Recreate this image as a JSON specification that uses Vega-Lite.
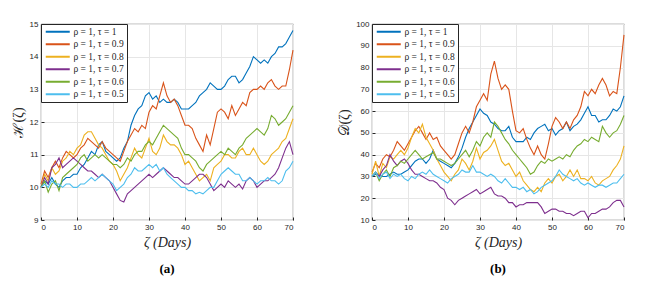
{
"$schema":"https://vega.github.io/schema/vega-lite/v6.json",
"padding":{"left":10,"top":19,"right":5,"bottom":2},
"config":{
"view":{"stroke":"#262626","strokeWidth":0.8},
"axis":{"labelFont":"Liberation Sans","labelFontSize":8,"labelColor":"#262626","gridColor":"#e6e6e6","domain":false,"tickColor":"#262626","tickSize":-3,"labelPadding":6,"titleFont":"Liberation Serif","titleFontSize":14,"titleFontWeight":"normal","titleColor":"#262626"},
"legend":{"orient":"top-left","offset":0,"padding":3,"strokeColor":"#262626","fillColor":"white","symbolType":"M-1,0H7","symbolSize":36,"symbolStrokeWidth":2,"symbolFillColor":"transparent","labelOffset":20,"labelFont":"Liberation Serif","labelFontSize":9.5,"labelColor":"#262626","rowPadding":1.5,"title":null},
"concat":{"spacing":41},
"title":{"orient":"bottom","font":"Liberation Serif","fontSize":13,"fontWeight":"bold","color":"#000000","offset":14}
},
"datasets":{
"a":[
{"s":"1","x":0,"y":10.0},{"s":"1","x":1,"y":10.2},{"s":"1","x":2,"y":10.1},{"s":"1","x":3,"y":10.3},{"s":"1","x":4,"y":10.1},{"s":"1","x":5,"y":10.0},{"s":"1","x":6,"y":10.2},{"s":"1","x":7,"y":10.3},{"s":"1","x":8,"y":10.3},{"s":"1","x":9,"y":10.4},{"s":"1","x":10,"y":10.4},{"s":"1","x":11,"y":10.6},{"s":"1","x":12,"y":10.7},{"s":"1","x":13,"y":10.9},{"s":"1","x":14,"y":11.1},{"s":"1","x":15,"y":11.0},{"s":"1","x":16,"y":11.3},{"s":"1","x":17,"y":11.4},{"s":"1","x":18,"y":11.1},{"s":"1","x":19,"y":11.0},{"s":"1","x":20,"y":10.9},{"s":"1","x":21,"y":10.8},{"s":"1","x":22,"y":10.9},{"s":"1","x":23,"y":11.2},{"s":"1","x":24,"y":11.4},{"s":"1","x":25,"y":11.9},{"s":"1","x":26,"y":12.2},{"s":"1","x":27,"y":12.4},{"s":"1","x":28,"y":12.5},{"s":"1","x":29,"y":12.8},{"s":"1","x":30,"y":12.9},{"s":"1","x":31,"y":12.7},{"s":"1","x":32,"y":12.8},{"s":"1","x":33,"y":12.6},{"s":"1","x":34,"y":12.7},{"s":"1","x":35,"y":12.6},{"s":"1","x":36,"y":12.6},{"s":"1","x":37,"y":12.7},{"s":"1","x":38,"y":12.6},{"s":"1","x":39,"y":12.4},{"s":"1","x":40,"y":12.4},{"s":"1","x":41,"y":12.4},{"s":"1","x":42,"y":12.5},{"s":"1","x":43,"y":12.6},{"s":"1","x":44,"y":12.8},{"s":"1","x":45,"y":12.9},{"s":"1","x":46,"y":13.0},{"s":"1","x":47,"y":13.2},{"s":"1","x":48,"y":13.1},{"s":"1","x":49,"y":13.0},{"s":"1","x":50,"y":13.0},{"s":"1","x":51,"y":13.1},{"s":"1","x":52,"y":13.3},{"s":"1","x":53,"y":13.4},{"s":"1","x":54,"y":13.4},{"s":"1","x":55,"y":13.2},{"s":"1","x":56,"y":13.3},{"s":"1","x":57,"y":13.5},{"s":"1","x":58,"y":13.7},{"s":"1","x":59,"y":14.0},{"s":"1","x":60,"y":13.9},{"s":"1","x":61,"y":13.8},{"s":"1","x":62,"y":13.9},{"s":"1","x":63,"y":13.8},{"s":"1","x":64,"y":14.0},{"s":"1","x":65,"y":14.1},{"s":"1","x":66,"y":14.3},{"s":"1","x":67,"y":14.3},{"s":"1","x":68,"y":14.4},{"s":"1","x":69,"y":14.6},{"s":"1","x":70,"y":14.8},
{"s":"0.9","x":0,"y":10.1},{"s":"0.9","x":1,"y":10.5},{"s":"0.9","x":2,"y":10.3},{"s":"0.9","x":3,"y":10.6},{"s":"0.9","x":4,"y":10.8},{"s":"0.9","x":5,"y":10.6},{"s":"0.9","x":6,"y":10.9},{"s":"0.9","x":7,"y":11.1},{"s":"0.9","x":8,"y":11.0},{"s":"0.9","x":9,"y":10.9},{"s":"0.9","x":10,"y":11.0},{"s":"0.9","x":11,"y":11.2},{"s":"0.9","x":12,"y":11.3},{"s":"0.9","x":13,"y":11.5},{"s":"0.9","x":14,"y":11.4},{"s":"0.9","x":15,"y":11.3},{"s":"0.9","x":16,"y":11.2},{"s":"0.9","x":17,"y":11.4},{"s":"0.9","x":18,"y":11.2},{"s":"0.9","x":19,"y":11.1},{"s":"0.9","x":20,"y":11.0},{"s":"0.9","x":21,"y":10.9},{"s":"0.9","x":22,"y":10.8},{"s":"0.9","x":23,"y":11.1},{"s":"0.9","x":24,"y":11.4},{"s":"0.9","x":25,"y":11.6},{"s":"0.9","x":26,"y":11.8},{"s":"0.9","x":27,"y":11.7},{"s":"0.9","x":28,"y":11.9},{"s":"0.9","x":29,"y":11.8},{"s":"0.9","x":30,"y":12.3},{"s":"0.9","x":31,"y":12.5},{"s":"0.9","x":32,"y":12.4},{"s":"0.9","x":33,"y":12.8},{"s":"0.9","x":34,"y":13.2},{"s":"0.9","x":35,"y":12.8},{"s":"0.9","x":36,"y":12.6},{"s":"0.9","x":37,"y":12.7},{"s":"0.9","x":38,"y":12.5},{"s":"0.9","x":39,"y":12.2},{"s":"0.9","x":40,"y":11.9},{"s":"0.9","x":41,"y":11.9},{"s":"0.9","x":42,"y":11.8},{"s":"0.9","x":43,"y":11.5},{"s":"0.9","x":44,"y":11.3},{"s":"0.9","x":45,"y":11.1},{"s":"0.9","x":46,"y":11.6},{"s":"0.9","x":47,"y":11.3},{"s":"0.9","x":48,"y":11.8},{"s":"0.9","x":49,"y":12.3},{"s":"0.9","x":50,"y":12.4},{"s":"0.9","x":51,"y":12.3},{"s":"0.9","x":52,"y":12.1},{"s":"0.9","x":53,"y":12.5},{"s":"0.9","x":54,"y":12.2},{"s":"0.9","x":55,"y":12.4},{"s":"0.9","x":56,"y":12.6},{"s":"0.9","x":57,"y":12.5},{"s":"0.9","x":58,"y":12.9},{"s":"0.9","x":59,"y":13.0},{"s":"0.9","x":60,"y":13.0},{"s":"0.9","x":61,"y":13.1},{"s":"0.9","x":62,"y":13.0},{"s":"0.9","x":63,"y":13.2},{"s":"0.9","x":64,"y":13.3},{"s":"0.9","x":65,"y":13.1},{"s":"0.9","x":66,"y":13.0},{"s":"0.9","x":67,"y":13.1},{"s":"0.9","x":68,"y":13.1},{"s":"0.9","x":69,"y":13.6},{"s":"0.9","x":70,"y":14.2},
{"s":"0.8","x":0,"y":10.0},{"s":"0.8","x":1,"y":10.4},{"s":"0.8","x":2,"y":10.2},{"s":"0.8","x":3,"y":10.6},{"s":"0.8","x":4,"y":10.4},{"s":"0.8","x":5,"y":10.5},{"s":"0.8","x":6,"y":10.8},{"s":"0.8","x":7,"y":10.9},{"s":"0.8","x":8,"y":11.1},{"s":"0.8","x":9,"y":11.0},{"s":"0.8","x":10,"y":11.2},{"s":"0.8","x":11,"y":11.3},{"s":"0.8","x":12,"y":11.6},{"s":"0.8","x":13,"y":11.7},{"s":"0.8","x":14,"y":11.7},{"s":"0.8","x":15,"y":11.5},{"s":"0.8","x":16,"y":11.3},{"s":"0.8","x":17,"y":11.2},{"s":"0.8","x":18,"y":11.0},{"s":"0.8","x":19,"y":10.8},{"s":"0.8","x":20,"y":10.7},{"s":"0.8","x":21,"y":10.5},{"s":"0.8","x":22,"y":10.2},{"s":"0.8","x":23,"y":10.4},{"s":"0.8","x":24,"y":10.6},{"s":"0.8","x":25,"y":10.9},{"s":"0.8","x":26,"y":11.2},{"s":"0.8","x":27,"y":11.0},{"s":"0.8","x":28,"y":10.9},{"s":"0.8","x":29,"y":11.2},{"s":"0.8","x":30,"y":11.5},{"s":"0.8","x":31,"y":11.1},{"s":"0.8","x":32,"y":11.0},{"s":"0.8","x":33,"y":11.2},{"s":"0.8","x":34,"y":11.6},{"s":"0.8","x":35,"y":11.4},{"s":"0.8","x":36,"y":11.3},{"s":"0.8","x":37,"y":11.3},{"s":"0.8","x":38,"y":11.2},{"s":"0.8","x":39,"y":11.0},{"s":"0.8","x":40,"y":10.7},{"s":"0.8","x":41,"y":10.8},{"s":"0.8","x":42,"y":10.6},{"s":"0.8","x":43,"y":10.4},{"s":"0.8","x":44,"y":10.2},{"s":"0.8","x":45,"y":10.3},{"s":"0.8","x":46,"y":10.4},{"s":"0.8","x":47,"y":10.2},{"s":"0.8","x":48,"y":10.6},{"s":"0.8","x":49,"y":10.7},{"s":"0.8","x":50,"y":10.8},{"s":"0.8","x":51,"y":11.0},{"s":"0.8","x":52,"y":11.0},{"s":"0.8","x":53,"y":10.9},{"s":"0.8","x":54,"y":10.9},{"s":"0.8","x":55,"y":11.1},{"s":"0.8","x":56,"y":11.2},{"s":"0.8","x":57,"y":11.0},{"s":"0.8","x":58,"y":11.0},{"s":"0.8","x":59,"y":11.2},{"s":"0.8","x":60,"y":11.0},{"s":"0.8","x":61,"y":10.8},{"s":"0.8","x":62,"y":10.7},{"s":"0.8","x":63,"y":10.8},{"s":"0.8","x":64,"y":11.0},{"s":"0.8","x":65,"y":11.1},{"s":"0.8","x":66,"y":11.2},{"s":"0.8","x":67,"y":11.4},{"s":"0.8","x":68,"y":11.5},{"s":"0.8","x":69,"y":11.8},{"s":"0.8","x":70,"y":12.1},
{"s":"0.7","x":0,"y":10.0},{"s":"0.7","x":1,"y":10.3},{"s":"0.7","x":2,"y":10.1},{"s":"0.7","x":3,"y":10.6},{"s":"0.7","x":4,"y":10.7},{"s":"0.7","x":5,"y":10.9},{"s":"0.7","x":6,"y":10.6},{"s":"0.7","x":7,"y":10.7},{"s":"0.7","x":8,"y":10.8},{"s":"0.7","x":9,"y":10.9},{"s":"0.7","x":10,"y":10.8},{"s":"0.7","x":11,"y":10.7},{"s":"0.7","x":12,"y":10.6},{"s":"0.7","x":13,"y":10.5},{"s":"0.7","x":14,"y":10.5},{"s":"0.7","x":15,"y":10.4},{"s":"0.7","x":16,"y":10.3},{"s":"0.7","x":17,"y":10.4},{"s":"0.7","x":18,"y":10.3},{"s":"0.7","x":19,"y":10.2},{"s":"0.7","x":20,"y":10.0},{"s":"0.7","x":21,"y":9.8},{"s":"0.7","x":22,"y":9.6},{"s":"0.7","x":23,"y":9.55},{"s":"0.7","x":24,"y":9.8},{"s":"0.7","x":25,"y":9.9},{"s":"0.7","x":26,"y":10.0},{"s":"0.7","x":27,"y":10.1},{"s":"0.7","x":28,"y":10.2},{"s":"0.7","x":29,"y":10.3},{"s":"0.7","x":30,"y":10.4},{"s":"0.7","x":31,"y":10.3},{"s":"0.7","x":32,"y":10.4},{"s":"0.7","x":33,"y":10.5},{"s":"0.7","x":34,"y":10.6},{"s":"0.7","x":35,"y":10.5},{"s":"0.7","x":36,"y":10.4},{"s":"0.7","x":37,"y":10.3},{"s":"0.7","x":38,"y":10.3},{"s":"0.7","x":39,"y":10.2},{"s":"0.7","x":40,"y":10.1},{"s":"0.7","x":41,"y":10.1},{"s":"0.7","x":42,"y":10.2},{"s":"0.7","x":43,"y":10.3},{"s":"0.7","x":44,"y":10.4},{"s":"0.7","x":45,"y":10.4},{"s":"0.7","x":46,"y":10.3},{"s":"0.7","x":47,"y":10.1},{"s":"0.7","x":48,"y":9.9},{"s":"0.7","x":49,"y":10.0},{"s":"0.7","x":50,"y":10.1},{"s":"0.7","x":51,"y":10.0},{"s":"0.7","x":52,"y":10.2},{"s":"0.7","x":53,"y":10.1},{"s":"0.7","x":54,"y":10.0},{"s":"0.7","x":55,"y":10.1},{"s":"0.7","x":56,"y":9.95},{"s":"0.7","x":57,"y":10.2},{"s":"0.7","x":58,"y":10.3},{"s":"0.7","x":59,"y":10.2},{"s":"0.7","x":60,"y":10.0},{"s":"0.7","x":61,"y":10.1},{"s":"0.7","x":62,"y":10.2},{"s":"0.7","x":63,"y":10.2},{"s":"0.7","x":64,"y":10.3},{"s":"0.7","x":65,"y":10.4},{"s":"0.7","x":66,"y":10.6},{"s":"0.7","x":67,"y":10.9},{"s":"0.7","x":68,"y":11.2},{"s":"0.7","x":69,"y":11.4},{"s":"0.7","x":70,"y":11.0},
{"s":"0.6","x":0,"y":10.0},{"s":"0.6","x":1,"y":10.2},{"s":"0.6","x":2,"y":9.85},{"s":"0.6","x":3,"y":10.1},{"s":"0.6","x":4,"y":10.2},{"s":"0.6","x":5,"y":9.9},{"s":"0.6","x":6,"y":10.3},{"s":"0.6","x":7,"y":10.4},{"s":"0.6","x":8,"y":10.5},{"s":"0.6","x":9,"y":10.6},{"s":"0.6","x":10,"y":10.7},{"s":"0.6","x":11,"y":10.9},{"s":"0.6","x":12,"y":11.0},{"s":"0.6","x":13,"y":10.8},{"s":"0.6","x":14,"y":10.9},{"s":"0.6","x":15,"y":11.0},{"s":"0.6","x":16,"y":10.9},{"s":"0.6","x":17,"y":11.0},{"s":"0.6","x":18,"y":10.9},{"s":"0.6","x":19,"y":10.8},{"s":"0.6","x":20,"y":10.7},{"s":"0.6","x":21,"y":10.7},{"s":"0.6","x":22,"y":10.6},{"s":"0.6","x":23,"y":10.7},{"s":"0.6","x":24,"y":10.9},{"s":"0.6","x":25,"y":10.8},{"s":"0.6","x":26,"y":11.0},{"s":"0.6","x":27,"y":11.1},{"s":"0.6","x":28,"y":11.1},{"s":"0.6","x":29,"y":11.3},{"s":"0.6","x":30,"y":11.4},{"s":"0.6","x":31,"y":11.3},{"s":"0.6","x":32,"y":11.5},{"s":"0.6","x":33,"y":11.7},{"s":"0.6","x":34,"y":11.9},{"s":"0.6","x":35,"y":11.8},{"s":"0.6","x":36,"y":11.7},{"s":"0.6","x":37,"y":11.6},{"s":"0.6","x":38,"y":11.5},{"s":"0.6","x":39,"y":11.2},{"s":"0.6","x":40,"y":11.0},{"s":"0.6","x":41,"y":11.0},{"s":"0.6","x":42,"y":10.9},{"s":"0.6","x":43,"y":10.8},{"s":"0.6","x":44,"y":10.6},{"s":"0.6","x":45,"y":10.5},{"s":"0.6","x":46,"y":10.7},{"s":"0.6","x":47,"y":10.8},{"s":"0.6","x":48,"y":10.9},{"s":"0.6","x":49,"y":11.0},{"s":"0.6","x":50,"y":11.1},{"s":"0.6","x":51,"y":11.0},{"s":"0.6","x":52,"y":11.2},{"s":"0.6","x":53,"y":11.1},{"s":"0.6","x":54,"y":11.0},{"s":"0.6","x":55,"y":11.2},{"s":"0.6","x":56,"y":11.3},{"s":"0.6","x":57,"y":11.5},{"s":"0.6","x":58,"y":11.6},{"s":"0.6","x":59,"y":11.7},{"s":"0.6","x":60,"y":11.8},{"s":"0.6","x":61,"y":11.7},{"s":"0.6","x":62,"y":11.6},{"s":"0.6","x":63,"y":11.8},{"s":"0.6","x":64,"y":12.2},{"s":"0.6","x":65,"y":12.1},{"s":"0.6","x":66,"y":11.9},{"s":"0.6","x":67,"y":12.0},{"s":"0.6","x":68,"y":12.1},{"s":"0.6","x":69,"y":12.3},{"s":"0.6","x":70,"y":12.5},
{"s":"0.5","x":0,"y":10.0},{"s":"0.5","x":1,"y":10.1},{"s":"0.5","x":2,"y":10.0},{"s":"0.5","x":3,"y":10.2},{"s":"0.5","x":4,"y":10.1},{"s":"0.5","x":5,"y":10.1},{"s":"0.5","x":6,"y":10.0},{"s":"0.5","x":7,"y":10.1},{"s":"0.5","x":8,"y":10.1},{"s":"0.5","x":9,"y":10.0},{"s":"0.5","x":10,"y":10.0},{"s":"0.5","x":11,"y":10.1},{"s":"0.5","x":12,"y":10.1},{"s":"0.5","x":13,"y":10.2},{"s":"0.5","x":14,"y":10.3},{"s":"0.5","x":15,"y":10.2},{"s":"0.5","x":16,"y":10.3},{"s":"0.5","x":17,"y":10.4},{"s":"0.5","x":18,"y":10.3},{"s":"0.5","x":19,"y":10.2},{"s":"0.5","x":20,"y":10.1},{"s":"0.5","x":21,"y":9.9},{"s":"0.5","x":22,"y":10.0},{"s":"0.5","x":23,"y":10.1},{"s":"0.5","x":24,"y":10.3},{"s":"0.5","x":25,"y":10.4},{"s":"0.5","x":26,"y":10.6},{"s":"0.5","x":27,"y":10.5},{"s":"0.5","x":28,"y":10.5},{"s":"0.5","x":29,"y":10.6},{"s":"0.5","x":30,"y":10.7},{"s":"0.5","x":31,"y":10.6},{"s":"0.5","x":32,"y":10.7},{"s":"0.5","x":33,"y":10.5},{"s":"0.5","x":34,"y":10.6},{"s":"0.5","x":35,"y":10.4},{"s":"0.5","x":36,"y":10.3},{"s":"0.5","x":37,"y":10.2},{"s":"0.5","x":38,"y":10.1},{"s":"0.5","x":39,"y":10.0},{"s":"0.5","x":40,"y":10.0},{"s":"0.5","x":41,"y":9.9},{"s":"0.5","x":42,"y":9.9},{"s":"0.5","x":43,"y":9.8},{"s":"0.5","x":44,"y":9.85},{"s":"0.5","x":45,"y":9.8},{"s":"0.5","x":46,"y":9.9},{"s":"0.5","x":47,"y":10.0},{"s":"0.5","x":48,"y":10.0},{"s":"0.5","x":49,"y":10.2},{"s":"0.5","x":50,"y":10.4},{"s":"0.5","x":51,"y":10.5},{"s":"0.5","x":52,"y":10.6},{"s":"0.5","x":53,"y":10.5},{"s":"0.5","x":54,"y":10.4},{"s":"0.5","x":55,"y":10.4},{"s":"0.5","x":56,"y":10.2},{"s":"0.5","x":57,"y":10.2},{"s":"0.5","x":58,"y":10.3},{"s":"0.5","x":59,"y":10.2},{"s":"0.5","x":60,"y":10.1},{"s":"0.5","x":61,"y":10.2},{"s":"0.5","x":62,"y":10.2},{"s":"0.5","x":63,"y":10.3},{"s":"0.5","x":64,"y":10.2},{"s":"0.5","x":65,"y":10.2},{"s":"0.5","x":66,"y":10.1},{"s":"0.5","x":67,"y":10.2},{"s":"0.5","x":68,"y":10.5},{"s":"0.5","x":69,"y":10.6},{"s":"0.5","x":70,"y":10.8}
],
"b":[
{"s":"1","x":0,"y":30},{"s":"1","x":1,"y":31},{"s":"1","x":2,"y":31},{"s":"1","x":3,"y":30},{"s":"1","x":4,"y":30},{"s":"1","x":5,"y":31},{"s":"1","x":6,"y":32},{"s":"1","x":7,"y":31},{"s":"1","x":8,"y":31},{"s":"1","x":9,"y":32},{"s":"1","x":10,"y":33},{"s":"1","x":11,"y":35},{"s":"1","x":12,"y":37},{"s":"1","x":13,"y":38},{"s":"1","x":14,"y":38},{"s":"1","x":15,"y":36},{"s":"1","x":16,"y":38},{"s":"1","x":17,"y":42},{"s":"1","x":18,"y":38},{"s":"1","x":19,"y":37},{"s":"1","x":20,"y":36},{"s":"1","x":21,"y":35},{"s":"1","x":22,"y":34},{"s":"1","x":23,"y":36},{"s":"1","x":24,"y":39},{"s":"1","x":25,"y":43},{"s":"1","x":26,"y":48},{"s":"1","x":27,"y":52},{"s":"1","x":28,"y":55},{"s":"1","x":29,"y":58},{"s":"1","x":30,"y":61},{"s":"1","x":31,"y":59},{"s":"1","x":32,"y":58},{"s":"1","x":33,"y":55},{"s":"1","x":34,"y":54},{"s":"1","x":35,"y":52},{"s":"1","x":36,"y":51},{"s":"1","x":37,"y":51},{"s":"1","x":38,"y":53},{"s":"1","x":39,"y":48},{"s":"1","x":40,"y":46},{"s":"1","x":41,"y":46},{"s":"1","x":42,"y":46},{"s":"1","x":43,"y":48},{"s":"1","x":44,"y":47},{"s":"1","x":45,"y":50},{"s":"1","x":46,"y":52},{"s":"1","x":47,"y":53},{"s":"1","x":48,"y":54},{"s":"1","x":49,"y":51},{"s":"1","x":50,"y":52},{"s":"1","x":51,"y":49},{"s":"1","x":52,"y":51},{"s":"1","x":53,"y":52},{"s":"1","x":54,"y":55},{"s":"1","x":55,"y":51},{"s":"1","x":56,"y":53},{"s":"1","x":57,"y":54},{"s":"1","x":58,"y":56},{"s":"1","x":59,"y":59},{"s":"1","x":60,"y":62},{"s":"1","x":61,"y":58},{"s":"1","x":62,"y":58},{"s":"1","x":63,"y":55},{"s":"1","x":64,"y":56},{"s":"1","x":65,"y":56},{"s":"1","x":66,"y":58},{"s":"1","x":67,"y":61},{"s":"1","x":68,"y":60},{"s":"1","x":69,"y":62},{"s":"1","x":70,"y":67},
{"s":"0.9","x":0,"y":32},{"s":"0.9","x":1,"y":36},{"s":"0.9","x":2,"y":34},{"s":"0.9","x":3,"y":38},{"s":"0.9","x":4,"y":40},{"s":"0.9","x":5,"y":39},{"s":"0.9","x":6,"y":42},{"s":"0.9","x":7,"y":46},{"s":"0.9","x":8,"y":44},{"s":"0.9","x":9,"y":42},{"s":"0.9","x":10,"y":45},{"s":"0.9","x":11,"y":48},{"s":"0.9","x":12,"y":51},{"s":"0.9","x":13,"y":53},{"s":"0.9","x":14,"y":50},{"s":"0.9","x":15,"y":47},{"s":"0.9","x":16,"y":50},{"s":"0.9","x":17,"y":47},{"s":"0.9","x":18,"y":48},{"s":"0.9","x":19,"y":44},{"s":"0.9","x":20,"y":42},{"s":"0.9","x":21,"y":40},{"s":"0.9","x":22,"y":38},{"s":"0.9","x":23,"y":40},{"s":"0.9","x":24,"y":45},{"s":"0.9","x":25,"y":50},{"s":"0.9","x":26,"y":53},{"s":"0.9","x":27,"y":50},{"s":"0.9","x":28,"y":55},{"s":"0.9","x":29,"y":62},{"s":"0.9","x":30,"y":65},{"s":"0.9","x":31,"y":68},{"s":"0.9","x":32,"y":65},{"s":"0.9","x":33,"y":77},{"s":"0.9","x":34,"y":83},{"s":"0.9","x":35,"y":75},{"s":"0.9","x":36,"y":70},{"s":"0.9","x":37,"y":72},{"s":"0.9","x":38,"y":70},{"s":"0.9","x":39,"y":60},{"s":"0.9","x":40,"y":51},{"s":"0.9","x":41,"y":50},{"s":"0.9","x":42,"y":52},{"s":"0.9","x":43,"y":47},{"s":"0.9","x":44,"y":43},{"s":"0.9","x":45,"y":40},{"s":"0.9","x":46,"y":44},{"s":"0.9","x":47,"y":40},{"s":"0.9","x":48,"y":38},{"s":"0.9","x":49,"y":45},{"s":"0.9","x":50,"y":53},{"s":"0.9","x":51,"y":57},{"s":"0.9","x":52,"y":55},{"s":"0.9","x":53,"y":52},{"s":"0.9","x":54,"y":55},{"s":"0.9","x":55,"y":52},{"s":"0.9","x":56,"y":56},{"s":"0.9","x":57,"y":58},{"s":"0.9","x":58,"y":62},{"s":"0.9","x":59,"y":69},{"s":"0.9","x":60,"y":67},{"s":"0.9","x":61,"y":70},{"s":"0.9","x":62,"y":68},{"s":"0.9","x":63,"y":72},{"s":"0.9","x":64,"y":75},{"s":"0.9","x":65,"y":72},{"s":"0.9","x":66,"y":67},{"s":"0.9","x":67,"y":69},{"s":"0.9","x":68,"y":68},{"s":"0.9","x":69,"y":80},{"s":"0.9","x":70,"y":95},
{"s":"0.8","x":0,"y":31},{"s":"0.8","x":1,"y":37},{"s":"0.8","x":2,"y":30},{"s":"0.8","x":3,"y":36},{"s":"0.8","x":4,"y":34},{"s":"0.8","x":5,"y":39},{"s":"0.8","x":6,"y":38},{"s":"0.8","x":7,"y":40},{"s":"0.8","x":8,"y":42},{"s":"0.8","x":9,"y":40},{"s":"0.8","x":10,"y":43},{"s":"0.8","x":11,"y":48},{"s":"0.8","x":12,"y":52},{"s":"0.8","x":13,"y":50},{"s":"0.8","x":14,"y":54},{"s":"0.8","x":15,"y":48},{"s":"0.8","x":16,"y":45},{"s":"0.8","x":17,"y":42},{"s":"0.8","x":18,"y":38},{"s":"0.8","x":19,"y":35},{"s":"0.8","x":20,"y":32},{"s":"0.8","x":21,"y":30},{"s":"0.8","x":22,"y":28},{"s":"0.8","x":23,"y":31},{"s":"0.8","x":24,"y":33},{"s":"0.8","x":25,"y":38},{"s":"0.8","x":26,"y":36},{"s":"0.8","x":27,"y":33},{"s":"0.8","x":28,"y":37},{"s":"0.8","x":29,"y":43},{"s":"0.8","x":30,"y":38},{"s":"0.8","x":31,"y":41},{"s":"0.8","x":32,"y":42},{"s":"0.8","x":33,"y":44},{"s":"0.8","x":34,"y":47},{"s":"0.8","x":35,"y":42},{"s":"0.8","x":36,"y":37},{"s":"0.8","x":37,"y":35},{"s":"0.8","x":38,"y":36},{"s":"0.8","x":39,"y":33},{"s":"0.8","x":40,"y":30},{"s":"0.8","x":41,"y":32},{"s":"0.8","x":42,"y":28},{"s":"0.8","x":43,"y":26},{"s":"0.8","x":44,"y":24},{"s":"0.8","x":45,"y":23},{"s":"0.8","x":46,"y":25},{"s":"0.8","x":47,"y":23},{"s":"0.8","x":48,"y":27},{"s":"0.8","x":49,"y":29},{"s":"0.8","x":50,"y":27},{"s":"0.8","x":51,"y":30},{"s":"0.8","x":52,"y":31},{"s":"0.8","x":53,"y":28},{"s":"0.8","x":54,"y":30},{"s":"0.8","x":55,"y":33},{"s":"0.8","x":56,"y":30},{"s":"0.8","x":57,"y":33},{"s":"0.8","x":58,"y":29},{"s":"0.8","x":59,"y":29},{"s":"0.8","x":60,"y":28},{"s":"0.8","x":61,"y":30},{"s":"0.8","x":62,"y":27},{"s":"0.8","x":63,"y":26},{"s":"0.8","x":64,"y":28},{"s":"0.8","x":65,"y":29},{"s":"0.8","x":66,"y":30},{"s":"0.8","x":67,"y":33},{"s":"0.8","x":68,"y":35},{"s":"0.8","x":69,"y":38},{"s":"0.8","x":70,"y":44},
{"s":"0.7","x":0,"y":30},{"s":"0.7","x":1,"y":32},{"s":"0.7","x":2,"y":30},{"s":"0.7","x":3,"y":33},{"s":"0.7","x":4,"y":35},{"s":"0.7","x":5,"y":40},{"s":"0.7","x":6,"y":37},{"s":"0.7","x":7,"y":35},{"s":"0.7","x":8,"y":37},{"s":"0.7","x":9,"y":38},{"s":"0.7","x":10,"y":36},{"s":"0.7","x":11,"y":33},{"s":"0.7","x":12,"y":31},{"s":"0.7","x":13,"y":31},{"s":"0.7","x":14,"y":30},{"s":"0.7","x":15,"y":29},{"s":"0.7","x":16,"y":28},{"s":"0.7","x":17,"y":28},{"s":"0.7","x":18,"y":27},{"s":"0.7","x":19,"y":25},{"s":"0.7","x":20,"y":24},{"s":"0.7","x":21,"y":20},{"s":"0.7","x":22,"y":19},{"s":"0.7","x":23,"y":17},{"s":"0.7","x":24,"y":19},{"s":"0.7","x":25,"y":20},{"s":"0.7","x":26,"y":21},{"s":"0.7","x":27,"y":22},{"s":"0.7","x":28,"y":23},{"s":"0.7","x":29,"y":24},{"s":"0.7","x":30,"y":22},{"s":"0.7","x":31,"y":23},{"s":"0.7","x":32,"y":24},{"s":"0.7","x":33,"y":25},{"s":"0.7","x":34,"y":22},{"s":"0.7","x":35,"y":21},{"s":"0.7","x":36,"y":21},{"s":"0.7","x":37,"y":20},{"s":"0.7","x":38,"y":18},{"s":"0.7","x":39,"y":18},{"s":"0.7","x":40,"y":16},{"s":"0.7","x":41,"y":17},{"s":"0.7","x":42,"y":17},{"s":"0.7","x":43,"y":18},{"s":"0.7","x":44,"y":18},{"s":"0.7","x":45,"y":18},{"s":"0.7","x":46,"y":18},{"s":"0.7","x":47,"y":16},{"s":"0.7","x":48,"y":13},{"s":"0.7","x":49,"y":14},{"s":"0.7","x":50,"y":15},{"s":"0.7","x":51,"y":15},{"s":"0.7","x":52,"y":14},{"s":"0.7","x":53,"y":14},{"s":"0.7","x":54,"y":13},{"s":"0.7","x":55,"y":13},{"s":"0.7","x":56,"y":12},{"s":"0.7","x":57,"y":13},{"s":"0.7","x":58,"y":14},{"s":"0.7","x":59,"y":14},{"s":"0.7","x":60,"y":11},{"s":"0.7","x":61,"y":13},{"s":"0.7","x":62,"y":13},{"s":"0.7","x":63,"y":14},{"s":"0.7","x":64,"y":15},{"s":"0.7","x":65,"y":15},{"s":"0.7","x":66,"y":16},{"s":"0.7","x":67,"y":18},{"s":"0.7","x":68,"y":19},{"s":"0.7","x":69,"y":19},{"s":"0.7","x":70,"y":16},
{"s":"0.6","x":0,"y":30},{"s":"0.6","x":1,"y":32},{"s":"0.6","x":2,"y":28},{"s":"0.6","x":3,"y":31},{"s":"0.6","x":4,"y":33},{"s":"0.6","x":5,"y":30},{"s":"0.6","x":6,"y":34},{"s":"0.6","x":7,"y":35},{"s":"0.6","x":8,"y":37},{"s":"0.6","x":9,"y":36},{"s":"0.6","x":10,"y":38},{"s":"0.6","x":11,"y":40},{"s":"0.6","x":12,"y":42},{"s":"0.6","x":13,"y":40},{"s":"0.6","x":14,"y":38},{"s":"0.6","x":15,"y":39},{"s":"0.6","x":16,"y":40},{"s":"0.6","x":17,"y":41},{"s":"0.6","x":18,"y":38},{"s":"0.6","x":19,"y":38},{"s":"0.6","x":20,"y":37},{"s":"0.6","x":21,"y":36},{"s":"0.6","x":22,"y":35},{"s":"0.6","x":23,"y":36},{"s":"0.6","x":24,"y":38},{"s":"0.6","x":25,"y":40},{"s":"0.6","x":26,"y":42},{"s":"0.6","x":27,"y":39},{"s":"0.6","x":28,"y":42},{"s":"0.6","x":29,"y":46},{"s":"0.6","x":30,"y":44},{"s":"0.6","x":31,"y":48},{"s":"0.6","x":32,"y":50},{"s":"0.6","x":33,"y":48},{"s":"0.6","x":34,"y":55},{"s":"0.6","x":35,"y":53},{"s":"0.6","x":36,"y":50},{"s":"0.6","x":37,"y":47},{"s":"0.6","x":38,"y":45},{"s":"0.6","x":39,"y":42},{"s":"0.6","x":40,"y":40},{"s":"0.6","x":41,"y":38},{"s":"0.6","x":42,"y":36},{"s":"0.6","x":43,"y":34},{"s":"0.6","x":44,"y":31},{"s":"0.6","x":45,"y":32},{"s":"0.6","x":46,"y":35},{"s":"0.6","x":47,"y":37},{"s":"0.6","x":48,"y":36},{"s":"0.6","x":49,"y":38},{"s":"0.6","x":50,"y":37},{"s":"0.6","x":51,"y":38},{"s":"0.6","x":52,"y":39},{"s":"0.6","x":53,"y":38},{"s":"0.6","x":54,"y":40},{"s":"0.6","x":55,"y":39},{"s":"0.6","x":56,"y":42},{"s":"0.6","x":57,"y":44},{"s":"0.6","x":58,"y":45},{"s":"0.6","x":59,"y":47},{"s":"0.6","x":60,"y":46},{"s":"0.6","x":61,"y":48},{"s":"0.6","x":62,"y":47},{"s":"0.6","x":63,"y":46},{"s":"0.6","x":64,"y":53},{"s":"0.6","x":65,"y":50},{"s":"0.6","x":66,"y":48},{"s":"0.6","x":67,"y":50},{"s":"0.6","x":68,"y":51},{"s":"0.6","x":69,"y":54},{"s":"0.6","x":70,"y":58},
{"s":"0.5","x":0,"y":30},{"s":"0.5","x":1,"y":32},{"s":"0.5","x":2,"y":29},{"s":"0.5","x":3,"y":31},{"s":"0.5","x":4,"y":32},{"s":"0.5","x":5,"y":29},{"s":"0.5","x":6,"y":31},{"s":"0.5","x":7,"y":30},{"s":"0.5","x":8,"y":31},{"s":"0.5","x":9,"y":29},{"s":"0.5","x":10,"y":28},{"s":"0.5","x":11,"y":30},{"s":"0.5","x":12,"y":29},{"s":"0.5","x":13,"y":31},{"s":"0.5","x":14,"y":32},{"s":"0.5","x":15,"y":31},{"s":"0.5","x":16,"y":33},{"s":"0.5","x":17,"y":31},{"s":"0.5","x":18,"y":30},{"s":"0.5","x":19,"y":29},{"s":"0.5","x":20,"y":28},{"s":"0.5","x":21,"y":27},{"s":"0.5","x":22,"y":29},{"s":"0.5","x":23,"y":30},{"s":"0.5","x":24,"y":31},{"s":"0.5","x":25,"y":33},{"s":"0.5","x":26,"y":32},{"s":"0.5","x":27,"y":32},{"s":"0.5","x":28,"y":35},{"s":"0.5","x":29,"y":32},{"s":"0.5","x":30,"y":32},{"s":"0.5","x":31,"y":31},{"s":"0.5","x":32,"y":30},{"s":"0.5","x":33,"y":31},{"s":"0.5","x":34,"y":30},{"s":"0.5","x":35,"y":28},{"s":"0.5","x":36,"y":27},{"s":"0.5","x":37,"y":29},{"s":"0.5","x":38,"y":27},{"s":"0.5","x":39,"y":25},{"s":"0.5","x":40,"y":25},{"s":"0.5","x":41,"y":24},{"s":"0.5","x":42,"y":25},{"s":"0.5","x":43,"y":23},{"s":"0.5","x":44,"y":24},{"s":"0.5","x":45,"y":22},{"s":"0.5","x":46,"y":23},{"s":"0.5","x":47,"y":25},{"s":"0.5","x":48,"y":26},{"s":"0.5","x":49,"y":27},{"s":"0.5","x":50,"y":28},{"s":"0.5","x":51,"y":30},{"s":"0.5","x":52,"y":33},{"s":"0.5","x":53,"y":31},{"s":"0.5","x":54,"y":30},{"s":"0.5","x":55,"y":29},{"s":"0.5","x":56,"y":28},{"s":"0.5","x":57,"y":29},{"s":"0.5","x":58,"y":27},{"s":"0.5","x":59,"y":26},{"s":"0.5","x":60,"y":27},{"s":"0.5","x":61,"y":26},{"s":"0.5","x":62,"y":25},{"s":"0.5","x":63,"y":26},{"s":"0.5","x":64,"y":26},{"s":"0.5","x":65,"y":25},{"s":"0.5","x":66,"y":26},{"s":"0.5","x":67,"y":27},{"s":"0.5","x":68,"y":27},{"s":"0.5","x":69,"y":29},{"s":"0.5","x":70,"y":31}
]
},
"hconcat":[
{"width":252,"height":196,"data":{"name":"a"},"title":{"text":"(a)"},
"mark":{"type":"line","strokeWidth":1.1},
"encoding":{
"x":{"field":"x","type":"quantitative","scale":{"domain":[0,70],"nice":false},"axis":{"values":[0,10,20,30,40,50,60,70],"title":"ζ (Days)","titleFontStyle":"italic"}},
"y":{"field":"y","type":"quantitative","scale":{"domain":[9,15],"nice":false,"zero":false},"axis":{"values":[9,10,11,12,13,14,15],"title":"ℋ(ζ)"}},
"color":{"field":"s","type":"nominal","sort":null,"scale":{"domain":["1","0.9","0.8","0.7","0.6","0.5"],"range":["#0072BD","#D95319","#EDB120","#7E2F8E","#77AC30","#4DBEEE"]},"legend":{"labelExpr":"'ρ = 1, τ = ' + datum.label"}}
}},
{"width":252,"height":196,"data":{"name":"b"},"title":{"text":"(b)"},
"mark":{"type":"line","strokeWidth":1.1},
"encoding":{
"x":{"field":"x","type":"quantitative","scale":{"domain":[0,70],"nice":false},"axis":{"values":[0,10,20,30,40,50,60,70],"title":"ζ (Days)","titleFontStyle":"italic"}},
"y":{"field":"y","type":"quantitative","scale":{"domain":[10,100],"nice":false,"zero":false},"axis":{"values":[10,20,30,40,50,60,70,80,90,100],"title":"𝒟(ζ)"}},
"color":{"field":"s","type":"nominal","sort":null,"scale":{"domain":["1","0.9","0.8","0.7","0.6","0.5"],"range":["#0072BD","#D95319","#EDB120","#7E2F8E","#77AC30","#4DBEEE"]},"legend":{"labelExpr":"'ρ = 1, τ = ' + datum.label"}}
}}
],
"resolve":{"legend":{"color":"independent"},"scale":{"color":"independent"}}
}
